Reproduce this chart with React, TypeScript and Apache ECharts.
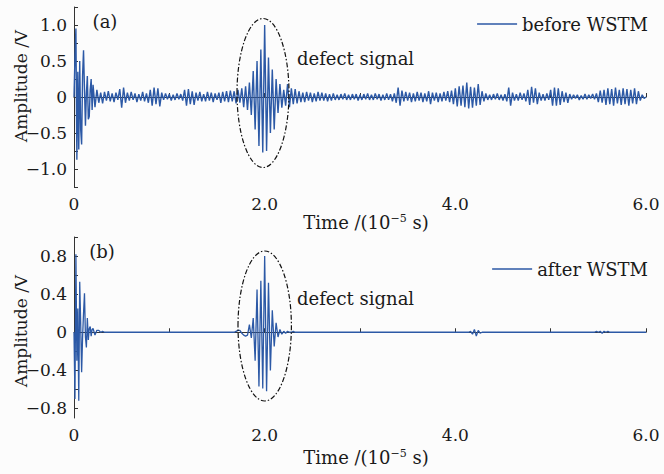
import React, { useEffect, useRef } from "react";
import * as echarts from "echarts";

// ---------- data (time in 1e-5 s, amplitude in V) ----------
const BURST_STEP = 0.01; // sampling of the initial burst, t = 0 .. 0.19
const TRACE_START = 0.2; // main trace starts here
const TRACE_STEP = 0.02; // sampling of the main trace, t = 0.2 .. 6.0

const beforeBurst = [
  0.0, 0.55, 0.95, -0.87, 0.35, -0.73, 0.5, -0.45, -0.66, 0.3,
  0.65, 0.1, -0.4, 0.05, 0.29, -0.31, -0.27, 0.1, 0.25, -0.18,
];

const beforeTrace = [
  0.17, -0.14, 0.1, -0.08, 0.06, -0.09, 0.07, -0.05, 0.08, -0.06,
  0.05, -0.07, 0.06, -0.04, 0.11, -0.15, 0.13, -0.08, 0.06, -0.05,
  0.07, -0.04, 0.05, -0.07, 0.04, -0.05, 0.07, -0.06, 0.05, -0.08,
  0.1, -0.12, 0.13, -0.1, 0.12, -0.13, 0.06, -0.04, 0.05, -0.03,
  0.04, -0.05, 0.03, -0.04, 0.05, -0.03, 0.04, -0.05, 0.1, -0.12,
  0.11, -0.1, 0.08, -0.11, 0.06, -0.05, 0.07, -0.06, 0.04, -0.06,
  0.07, -0.05, 0.06, -0.07, 0.05, -0.04, 0.06, -0.08, 0.07, -0.06,
  0.08, -0.07, 0.09, -0.06, 0.08, -0.09, 0.1, -0.08, 0.12, -0.14,
  0.15, -0.18, 0.2, -0.25, 0.36, -0.45, 0.5, -0.68, 0.66, -0.77,
  1.0, -0.75, 0.55, -0.5, 0.38, -0.45, 0.25, -0.22, 0.18, -0.15,
  0.1, -0.12, 0.18, -0.14, 0.12, -0.1, 0.11, -0.09, 0.08, -0.07,
  0.06, -0.07, 0.07, -0.05, 0.06, -0.07, 0.05, -0.06, 0.07, -0.05,
  0.06, -0.05, 0.05, -0.06, 0.04, -0.05, 0.05, -0.04, 0.03, -0.04,
  0.04, -0.03, 0.05, -0.04, 0.03, -0.04, 0.04, -0.03, 0.04, -0.05,
  0.03, -0.04, 0.04, -0.03, 0.05, -0.04, 0.03, -0.04, 0.05, -0.03,
  0.04, -0.05, 0.03, -0.04, 0.05, -0.04, 0.04, -0.06, 0.05, -0.08,
  0.13, -0.12, 0.09, -0.06, 0.07, -0.05, 0.06, -0.07, 0.05, -0.06,
  0.07, -0.05, 0.06, -0.07, 0.05, -0.06, 0.08, -0.1, 0.06, -0.05,
  0.06, -0.07, 0.05, -0.06, 0.07, -0.05, 0.08, -0.07, 0.09, -0.1,
  0.12, -0.13, 0.15, -0.12, 0.16, -0.14, 0.2, -0.16, 0.14, -0.15,
  0.13, -0.12, 0.18, -0.11, 0.08, -0.06, 0.05, -0.04, 0.03, -0.04,
  0.04, -0.03, 0.05, -0.04, 0.03, -0.05, 0.04, -0.06, 0.13, -0.12,
  0.06, -0.05, 0.04, -0.05, 0.06, -0.04, 0.05, -0.06, 0.1, -0.11,
  0.14, -0.08, 0.12, -0.1, 0.06, -0.05, 0.04, -0.05, 0.05, -0.04,
  0.1, -0.12, 0.13, -0.12, 0.12, -0.11, 0.08, -0.07, 0.06, -0.08,
  0.04, -0.03, 0.03, -0.02, 0.03, -0.04, 0.02, -0.03, 0.04, -0.03,
  0.03, -0.02, 0.04, -0.03, 0.05, -0.07, 0.09, -0.08, 0.1, -0.11,
  0.12, -0.1, 0.11, -0.12, 0.13, -0.09, 0.1, -0.11, 0.12, -0.1,
  0.11, -0.12, 0.1, -0.09, 0.12, -0.1, 0.08, -0.05, 0.03, -0.02,
  0.0,
];

const afterBurst = [
  0.0, -0.7, 0.82, -0.3, 0.25, -0.72, 0.53, 0.1, -0.42, -0.05,
  0.2, 0.41, -0.05, -0.16, 0.15, -0.08, 0.04, 0.06, -0.04, 0.03,
];

const afterTrace = [
  0.04, -0.03, 0.02, 0.02, 0, 0.01, 0, 0, 0, 0,
  0, 0, 0, 0, 0, 0, 0, 0, 0, 0,
  0, 0, 0, 0, 0, 0, 0, 0, 0, 0,
  0, 0, 0, 0, 0, 0, 0, 0, 0, 0,
  0, 0, 0, 0, 0, 0, 0, 0, 0, 0,
  0, 0, 0, 0, 0, 0, 0, 0, 0, 0,
  0, 0, 0, 0, 0, 0, 0, 0, 0, 0,
  0, 0, 0, 0, 0, 0.01, 0.02, 0.02, -0.01, -0.03,
  -0.04, -0.03, 0.08, -0.06, 0.15, -0.3, 0.45, -0.57, 0.54, -0.59,
  0.8, -0.62, 0.52, -0.4, 0.23, -0.15, 0.1, -0.05, 0.03, -0.02,
  0.01, -0.01, 0.01, 0, 0, 0.01, 0, 0, 0, 0,
  0, 0, 0, 0, 0, 0, 0, 0, 0, 0,
  0, 0, 0, 0, 0, 0, 0, 0, 0, 0,
  0, 0, 0, 0, 0, 0, 0, 0, 0, 0,
  0, 0, 0, 0, 0, 0, 0, 0, 0, 0,
  0, 0, 0, 0, 0, 0, 0, 0, 0, 0,
  0, 0, 0, 0, 0, 0, 0, 0, 0, 0,
  0, 0, 0, 0, 0, 0, 0, 0, 0, 0,
  0, 0, 0, 0, 0, 0, 0, 0, 0, 0,
  0, 0, 0, 0, 0, 0, 0, 0, 0.01, -0.02,
  0.03, -0.04, 0.02, -0.01, 0, 0, 0, 0, 0, 0,
  0, 0, 0, 0, 0, 0, 0, 0, 0, 0,
  0, 0, 0, 0, 0, 0, 0, 0, 0, 0,
  0, 0, 0, 0, 0, 0, 0, 0, 0, 0,
  0, 0, 0, 0, 0, 0, 0, 0, 0, 0,
  0, 0, 0, 0, 0, 0, 0, 0, 0, 0,
  0, 0, 0, 0, 0.01, 0, 0.01, -0.01, 0.01, 0,
  0.01, 0, 0, 0, 0, 0, 0, 0, 0, 0,
  0, 0, 0, 0, 0, 0, 0, 0, 0, 0,
  0,
];

const seriesNames = ["before WSTM", "after WSTM"];
const xLabelValues = [0, 2, 4, 6];
const xLabelTexts = ["0", "2.0", "4.0", "6.0"];
const yTopLabelValues = [-1, -0.5, 0, 0.5, 1];
const yTopLabelTexts = ["\u22121.0", "\u22120.5", "0", "0.5", "1.0"];
const yBottomTickValues = [-0.8, -0.6, -0.4, -0.2, 0, 0.2, 0.4, 0.6, 0.8, 1.0];
const yBottomLabelValues = [-0.8, -0.4, 0, 0.4, 0.8];
const yBottomLabelTexts = ["\u22120.8", "\u22120.4", "0", "0.4", "0.8"];
const panelTags = ["(a)", "(b)"];
const annotationText = "defect signal";
const yTitle = "Amplitude /V";

// ---------- helpers ----------
function toPairs(burst: number[], trace: number[]): number[][] {
  const pts: number[][] = [];
  burst.forEach((v, i) => pts.push([+(i * BURST_STEP).toFixed(3), v]));
  trace.forEach((v, i) => pts.push([+(TRACE_START + i * TRACE_STEP).toFixed(3), v]));
  return pts;
}

function lookup(values: number[], texts: string[], v: number): string {
  const k = values.findIndex((x) => Math.abs(x - v) < 1e-6);
  return k >= 0 ? texts[k] : "";
}

const FONT = "'DejaVu Serif', 'Liberation Serif', serif";
const TEXT_COLOR = "#1a1a1a";
const AXIS_COLOR = "#333";
const LINE_COLOR = "#2c59a6";
const BG = "#fcfcfc";

export default function App() {
  const ref = useRef<HTMLDivElement>(null);

  useEffect(() => {
    if (!ref.current) return;
    const chart = echarts.init(ref.current, undefined, { renderer: "svg" });

    const xAxisBase = (gridIndex: number) => ({
      type: "value",
      gridIndex,
      min: 0,
      max: 6,
      interval: 1,
      axisLine: { show: true, lineStyle: { color: AXIS_COLOR, width: 1 } },
      axisTick: { show: true, inside: true, length: 4, lineStyle: { color: AXIS_COLOR } },
      axisLabel: {
        margin: 8,
        fontFamily: FONT,
        fontSize: 17,
        color: TEXT_COLOR,
        formatter: (v: number) => lookup(xLabelValues, xLabelTexts, v),
      },
      splitLine: { show: false },
    });

    const labelStyle = {
      fontFamily: FONT,
      fontSize: 17,
      color: TEXT_COLOR,
      margin: 7,
    };

    const option: any = {
      animation: false,
      backgroundColor: BG,
      grid: [
        { left: 74, top: 7, width: 572, height: 180 },
        { left: 74, top: 237, width: 572, height: 181 },
      ],
      xAxis: [xAxisBase(0), xAxisBase(1)],
      yAxis: [
        {
          type: "value",
          gridIndex: 0,
          min: -1.25,
          max: 1.25,
          interval: 0.25,
          axisLine: { show: true, lineStyle: { color: AXIS_COLOR, width: 1 } },
          axisTick: { show: true, inside: true, length: 4, lineStyle: { color: AXIS_COLOR } },
          axisLabel: {
            ...labelStyle,
            formatter: (v: number) => lookup(yTopLabelValues, yTopLabelTexts, v),
          },
          splitLine: { show: false },
        },
        {
          type: "value",
          gridIndex: 1,
          min: -0.9,
          max: 1.0,
          axisLine: { show: true, lineStyle: { color: AXIS_COLOR, width: 1 } },
          axisTick: {
            show: true,
            inside: true,
            length: 4,
            customValues: yBottomTickValues,
            lineStyle: { color: AXIS_COLOR },
          },
          axisLabel: {
            ...labelStyle,
            customValues: yBottomLabelValues,
            formatter: (v: number) => lookup(yBottomLabelValues, yBottomLabelTexts, v),
          },
          splitLine: { show: false },
        },
      ],
      legend: [
        {
          data: [seriesNames[0]],
          right: 16,
          top: 15,
          padding: 0,
          icon: "rect",
          itemWidth: 40,
          itemHeight: 1.5,
          textStyle: { fontFamily: FONT, fontSize: 18, color: TEXT_COLOR },
        },
        {
          data: [seriesNames[1]],
          right: 16,
          top: 260,
          padding: 0,
          icon: "rect",
          itemWidth: 40,
          itemHeight: 1.5,
          textStyle: { fontFamily: FONT, fontSize: 18, color: TEXT_COLOR },
        },
      ],
      series: [
        {
          name: seriesNames[0],
          type: "line",
          xAxisIndex: 0,
          yAxisIndex: 0,
          data: toPairs(beforeBurst, beforeTrace),
          symbol: "none",
          lineStyle: { color: LINE_COLOR, width: 1.4 },
          itemStyle: { color: LINE_COLOR },
        },
        {
          name: seriesNames[1],
          type: "line",
          xAxisIndex: 1,
          yAxisIndex: 1,
          data: toPairs(afterBurst, afterTrace),
          symbol: "none",
          lineStyle: { color: LINE_COLOR, width: 1.3 },
          itemStyle: { color: LINE_COLOR },
        },
      ],
      graphic: [
        {
          type: "ellipse",
          shape: { cx: 263, cy: 93, rx: 26, ry: 74.5 },
          style: { fill: "none", stroke: "#111", lineWidth: 1.2, lineDash: [5, 2, 1.5, 2] },
          z: 20,
        },
        {
          type: "ellipse",
          shape: { cx: 264.7, cy: 326, rx: 26.7, ry: 75 },
          style: { fill: "none", stroke: "#111", lineWidth: 1.2, lineDash: [5, 2, 1.5, 2] },
          z: 20,
        },
        {
          type: "text",
          x: 105,
          y: 21,
          style: { text: panelTags[0], font: `18px ${FONT}`, fill: TEXT_COLOR, align: "center", verticalAlign: "middle", textAlign: "center", textVerticalAlign: "middle" },
          z: 20,
        },
        {
          type: "text",
          x: 102,
          y: 251,
          style: { text: panelTags[1], font: `18px ${FONT}`, fill: TEXT_COLOR, align: "center", verticalAlign: "middle", textAlign: "center", textVerticalAlign: "middle" },
          z: 20,
        },
        {
          type: "text",
          x: 297,
          y: 58,
          style: { text: annotationText, font: `18px ${FONT}`, fill: TEXT_COLOR, align: "left", verticalAlign: "middle", textAlign: "left", textVerticalAlign: "middle" },
          z: 20,
        },
        {
          type: "text",
          x: 297,
          y: 298,
          style: { text: annotationText, font: `18px ${FONT}`, fill: TEXT_COLOR, align: "left", verticalAlign: "middle", textAlign: "left", textVerticalAlign: "middle" },
          z: 20,
        },
        {
          type: "text",
          x: 21,
          y: 86,
          rotation: Math.PI / 2,
          style: { text: yTitle, font: `17px ${FONT}`, fill: TEXT_COLOR, align: "center", verticalAlign: "middle", textAlign: "center", textVerticalAlign: "middle" },
          z: 20,
        },
        {
          type: "text",
          x: 21,
          y: 331,
          rotation: Math.PI / 2,
          style: { text: yTitle, font: `17px ${FONT}`, fill: TEXT_COLOR, align: "center", verticalAlign: "middle", textAlign: "center", textVerticalAlign: "middle" },
          z: 20,
        },
        ...[222, 457].map((y) => ({
          type: "text",
          x: 366,
          y,
          style: {
            text: "Time /(10{sup|\u22125} s)",
            font: `18px ${FONT}`,
            fill: TEXT_COLOR,
            align: "center",
            verticalAlign: "middle",
            textAlign: "center",
            textVerticalAlign: "middle",
            rich: {
              sup: { fontFamily: FONT, fontSize: 11, fill: TEXT_COLOR, padding: [0, 0, 8, 0] },
            },
          },
          z: 20,
        })),
      ],
    };

    chart.setOption(option);
    return () => chart.dispose();
  }, []);

  return (
    <div
      ref={ref}
      style={{ position: "absolute", left: 0, top: 0, width: 664, height: 474, background: BG }}
    />
  );
}
